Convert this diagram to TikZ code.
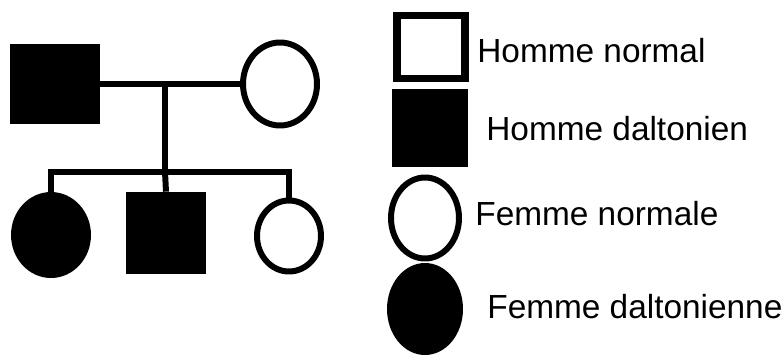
\documentclass[tikz,border=0pt]{standalone}
\usepackage{fontspec}
\setmainfont{Liberation Sans}
\usetikzlibrary{shapes.geometric}

\begin{document}
\begin{tikzpicture}[x=0.02cm, y=-0.02cm,
  male/.style={rectangle, inner sep=0pt},
  female/.style={ellipse, inner sep=0pt},
  sick/.style={fill=black},
  sane/.style={draw=black, fill=white, line width=3.4pt},
  legtext/.style={anchor=base west, inner sep=0pt, font=\fontsize{19}{22}\selectfont},
  tie/.style={line width=3.4pt}]

\useasboundingbox (0,0) rectangle (784,355);

\node[male, sick, minimum width=1.8cm, minimum height=1.6cm] (father) at (55,84) {};
\node[female, sane, minimum width=1.48cm, minimum height=1.66cm] (mother) at (280,84) {};

\coordinate (m) at (165,84);
\coordinate (sib) at (165,172);

\node[female, sick, minimum width=1.6cm, minimum height=1.72cm] (d1) at (51,235) {};
\node[male, sick, minimum width=1.6cm, minimum height=1.64cm] (son) at (166,233) {};
\node[female, sane, minimum width=1.28cm, minimum height=1.42cm] (d2) at (289,236) {};

\draw[tie] (father.east) -- (mother.west);
\draw[tie] (m) -- (sib);
\draw[tie] (d1.north) |- (sib) -| (d2.north);
\draw[tie] (sib) -- (son.north);

\node[male, sane, line width=4.5pt, minimum width=1.36cm, minimum height=1.26cm] (l1) at (431,47) {};
\node[male, sick, minimum width=1.54cm, minimum height=1.56cm] (l2) at (430,128) {};
\node[female, sane, minimum width=1.36cm, minimum height=1.62cm] (l3) at (425,218) {};
\node[female, sick, minimum width=1.52cm, minimum height=1.84cm] (l4) at (425,309) {};

\node[legtext] (t1) at (477,62) {Homme normal};
\node[legtext] (t2) at (486,140) {Homme daltonien};
\node[legtext] (t3) at (475,225) {Femme normale};
\node[legtext] (t4) at (487,318) {Femme daltonienne};

\end{tikzpicture}
\end{document}
